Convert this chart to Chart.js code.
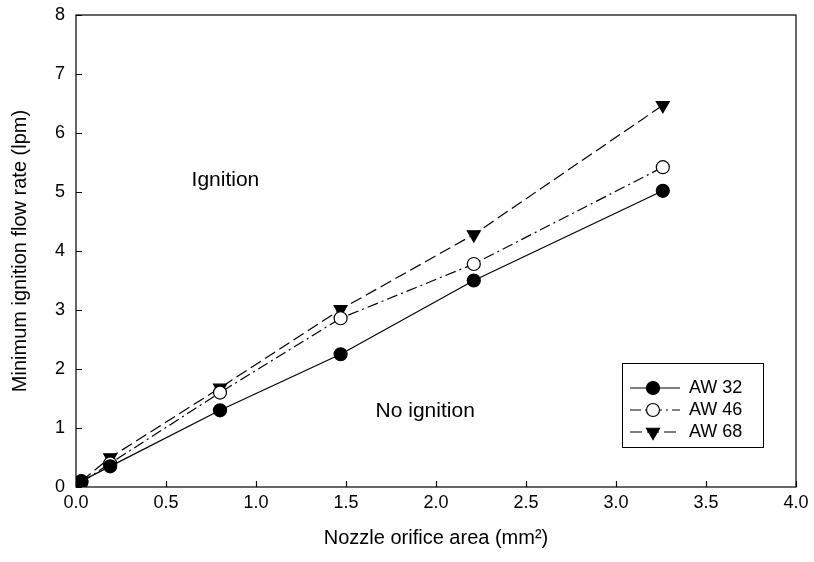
<!DOCTYPE html>
<html>
<head>
<meta charset="utf-8">
<script src="https://cdn.jsdelivr.net/npm/chart.js@4.4.0/dist/chart.umd.min.js"></script>
<style>
  html, body { margin: 0; padding: 0; background: #fff; }
  #wrap { width: 814px; height: 562px; position: relative; }
</style>
</head>
<body>
<div id="wrap"><canvas id="c" width="814" height="562"></canvas></div>
<script>
const areaX = [0.03, 0.19, 0.80, 1.47, 2.21, 3.26];
const aw32 = [0.10, 0.35, 1.30, 2.25, 3.50, 5.02];
const aw46 = [0.08, 0.40, 1.60, 2.86, 3.78, 5.42];
const aw68 = [0.10, 0.50, 1.68, 3.01, 4.28, 6.47];
const seriesNames = ['AW 32', 'AW 46', 'AW 68'];
const xTicks = [0.0, 0.5, 1.0, 1.5, 2.0, 2.5, 3.0, 3.5, 4.0];
const yTicks = [0, 1, 2, 3, 4, 5, 6, 7, 8];
const regionLabels = [
  { text: 'Ignition', x: 0.83, y: 5.2 },
  { text: 'No ignition', x: 1.94, y: 1.29 }
];

const FONT = '"Liberation Sans", Arial, sans-serif';

function pts(xs, ys) { return xs.map((x, i) => ({ x: x, y: ys[i] })); }

const styles = [
  { dash: [], pointStyle: 'circle', fill: '#000', rot: 0, r: 6.5 },
  { dash: [11, 4, 2, 4], pointStyle: 'circle', fill: '#fff', rot: 0, r: 6.5 },
  { dash: [12, 5], pointStyle: 'triangle', fill: '#000', rot: 180, r: 7.5 }
];
const datas = [aw32, aw46, aw68];

const datasets = datas.map((d, i) => ({
  label: seriesNames[i],
  data: pts(areaX, d),
  borderColor: '#000',
  borderWidth: 1.2,
  borderDash: styles[i].dash,
  pointStyle: styles[i].pointStyle,
  pointRotation: styles[i].rot,
  pointRadius: styles[i].r,
  pointBackgroundColor: styles[i].fill,
  pointBorderColor: '#000',
  pointBorderWidth: 1.2,
  tension: 0,
  fill: false
}));

const framePlugin = {
  id: 'frame',
  afterDraw(chart) {
    const ctx = chart.ctx;
    const a = chart.chartArea;
    const xs = chart.scales.x, ys = chart.scales.y;
    ctx.save();
    ctx.strokeStyle = '#000';
    ctx.lineWidth = 1.2;
    ctx.setLineDash([]);
    ctx.strokeRect(a.left, a.top, a.right - a.left, a.bottom - a.top);
    ctx.beginPath();
    xTicks.forEach(v => {
      const px = Math.round(xs.getPixelForValue(v)) + 0.5;
      ctx.moveTo(px, a.bottom);
      ctx.lineTo(px, a.bottom - 6);
    });
    yTicks.forEach(v => {
      const py = Math.round(ys.getPixelForValue(v)) + 0.5;
      ctx.moveTo(a.left, py);
      ctx.lineTo(a.left + 6, py);
    });
    ctx.stroke();
    ctx.fillStyle = '#000';
    ctx.font = '21px ' + FONT;
    ctx.textAlign = 'center';
    ctx.textBaseline = 'middle';
    regionLabels.forEach(l => {
      ctx.fillText(l.text, xs.getPixelForValue(l.x), ys.getPixelForValue(l.y));
    });
    const bx = 622, by = 363, bw = 141, bh = 84;
    ctx.fillStyle = '#fff';
    ctx.fillRect(bx, by, bw, bh);
    ctx.lineWidth = 1;
    ctx.strokeRect(bx + 0.5, by + 0.5, bw, bh);
    ctx.font = '18px ' + FONT;
    ctx.textAlign = 'left';
    seriesNames.forEach((name, i) => {
      const ry = by + 25 + i * 22;
      const s = styles[i];
      ctx.strokeStyle = '#000';
      ctx.lineWidth = 1.2;
      ctx.setLineDash(s.dash);
      ctx.beginPath();
      ctx.moveTo(bx + 8, ry);
      ctx.lineTo(bx + 58, ry);
      ctx.stroke();
      ctx.setLineDash([]);
      ctx.fillStyle = s.fill;
      Chart.helpers.drawPoint(ctx, { pointStyle: s.pointStyle, radius: s.r, rotation: s.rot, borderWidth: 1.2 }, bx + 31, ry);
      ctx.fillStyle = '#000';
      ctx.fillText(name, bx + 67, ry);
    });
    ctx.restore();
  }
};

new Chart(document.getElementById('c'), {
  type: 'line',
  data: { datasets: datasets },
  options: {
    responsive: false,
    animation: false,
    devicePixelRatio: 1,
    layout: { padding: { top: 15, right: 18, left: 8, bottom: 0 } },
    plugins: { legend: { display: false }, tooltip: { enabled: false } },
    scales: {
      x: {
        type: 'linear',
        min: 0, max: 4,
        afterBuildTicks(scale) { scale.ticks = xTicks.map(v => ({ value: v })); },
        afterFit(scale) { scale.height = 75; scale.paddingLeft = 0; scale.paddingRight = 0; },
        grid: { display: false, drawTicks: false },
        border: { display: false },
        ticks: {
          color: '#000',
          font: { family: FONT, size: 18 },
          padding: 5,
          maxRotation: 0,
          callback: v => Number(v).toFixed(1)
        },
        title: {
          display: true,
          text: 'Nozzle orifice area (mm²)',
          color: '#000',
          font: { family: FONT, size: 20 },
          padding: { top: 4, bottom: 12 }
        }
      },
      y: {
        type: 'linear',
        min: 0, max: 8,
        afterBuildTicks(scale) { scale.ticks = yTicks.map(v => ({ value: v })); },
        afterFit(scale) { scale.width = 68; scale.paddingTop = 0; scale.paddingBottom = 0; },
        grid: { display: false, drawTicks: false },
        border: { display: false },
        ticks: {
          color: '#000',
          font: { family: FONT, size: 18 },
          padding: 11,
          callback: v => String(v)
        },
        title: {
          display: true,
          text: 'Minimum ignition flow rate (lpm)',
          color: '#000',
          font: { family: FONT, size: 20 },
          padding: { top: 0, bottom: 0 }
        }
      }
    }
  },
  plugins: [framePlugin]
});
</script>
</body>
</html>
